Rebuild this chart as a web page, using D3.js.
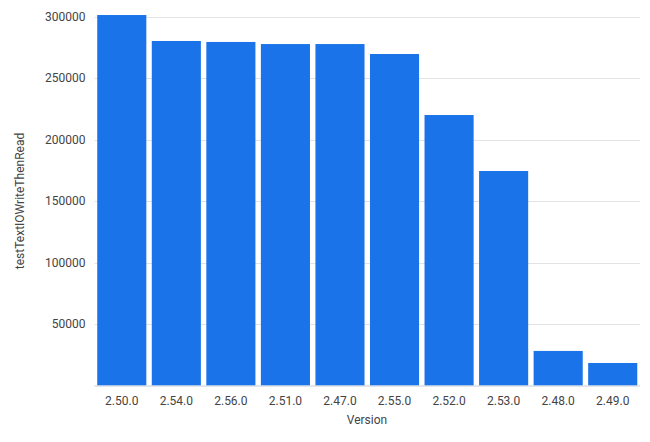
<!DOCTYPE html>
<html><head><meta charset="utf-8">
<script src="https://cdn.jsdelivr.net/npm/d3@7"></script>
<style>body{margin:0;background:#fff;} text{font-family:Roboto, sans-serif;}</style>
</head><body>
<svg id="chart" width="650" height="442"></svg>
<script>
const categories = ["2.50.0","2.54.0","2.56.0","2.51.0","2.47.0","2.55.0","2.52.0","2.53.0","2.48.0","2.49.0"];
const values = [301200, 280100, 279300, 277600, 277600, 269500, 219900, 174400, 28100, 18300];
const yTicks = [50000, 100000, 150000, 200000, 250000, 300000];

const svg = d3.select("#chart");
const x = d3.scaleBand().domain(categories).range([94.5, 640]).paddingInner(0.1).paddingOuter(0.05);
const y = d3.scaleLinear().domain([0, 300000]).range([385.5, 16.5]);

// gridlines
svg.append("g").selectAll("line").data(yTicks).join("line")
  .attr("x1", 94.5).attr("x2", 640)
  .attr("y1", d => Math.round(y(d)) + 0.5).attr("y2", d => Math.round(y(d)) + 0.5)
  .attr("stroke", "#e3e3e3").attr("stroke-width", 1);

// bars
svg.append("g").selectAll("rect").data(values).join("rect")
  .attr("x", (d, i) => x(categories[i]))
  .attr("width", x.bandwidth())
  .attr("y", d => y(d))
  .attr("height", d => y(0) - y(d))
  .attr("fill", "#1a73e8");

// baseline
svg.append("line").attr("x1", 94.5).attr("x2", 640)
  .attr("y1", 386).attr("y2", 386).attr("stroke", "#c6cedb").attr("stroke-width", 1);

// y axis labels
const yAxis = d3.axisLeft(y).tickValues(yTicks).tickSize(0).tickPadding(9).tickFormat(d3.format("d"));
const gy = svg.append("g").attr("transform", "translate(94.5,0)").call(yAxis);
gy.select(".domain").remove();
gy.selectAll("text").attr("fill", "#444").style("font-size", "12px").style("font-family", "Roboto, sans-serif");

// x axis labels
const xAxis = d3.axisBottom(x).tickSize(0).tickPadding(10);
const gx = svg.append("g").attr("transform", "translate(0,386)").call(xAxis);
gx.select(".domain").remove();
gx.selectAll("text").attr("fill", "#444").style("font-size", "12px").style("font-family", "Roboto, sans-serif");

// axis titles
svg.append("text").attr("x", 367).attr("y", 424).attr("text-anchor", "middle")
  .attr("fill", "#444").style("font-size", "12px").text("Version");
svg.append("text").attr("transform", "translate(23.5,201) rotate(-90)").attr("text-anchor", "middle")
  .attr("fill", "#444").style("font-size", "12px").text("testTextIOWriteThenRead");
</script>
</body></html>
